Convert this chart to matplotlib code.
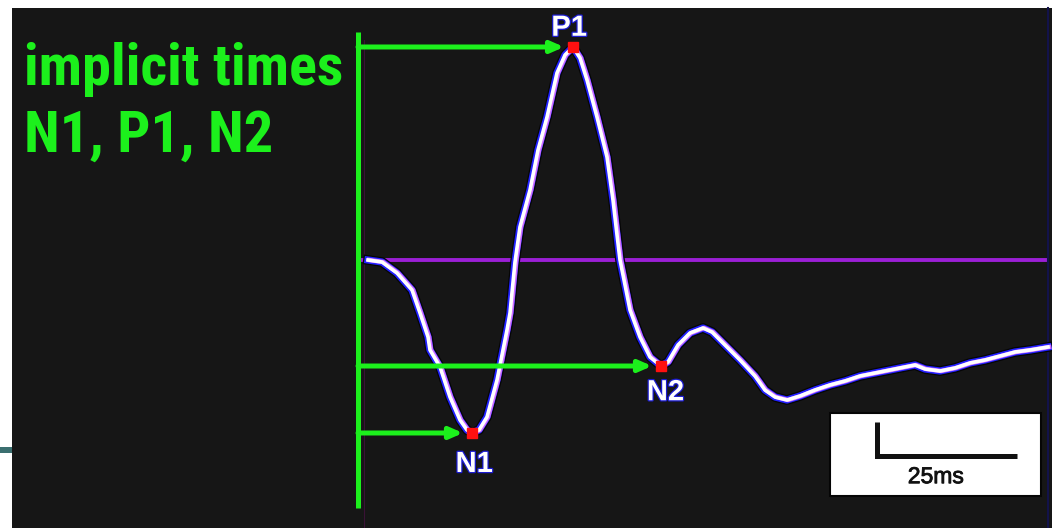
import matplotlib
matplotlib.use("Agg")
import matplotlib.pyplot as plt
import matplotlib.patheffects as pe
from matplotlib import font_manager
import numpy as np

# ---------------- data ----------------
time_ms = [1.07, 3.57, 6.25, 8.93, 10.36, 11.79, 12.14, 13.93, 15.71, 17.5, 18.75, 19.64,
           20.89, 22.32, 24.11, 25.18, 25.89, 26.43, 27.32, 28.21, 30.0, 31.43, 33.04,
           34.82, 36.25, 37.68, 38.93, 40.18, 41.96, 43.75, 44.82, 45.54, 46.07, 46.79,
           47.86, 49.64, 51.43, 53.39, 54.64, 56.43, 58.57, 60.89, 62.5, 64.82, 67.5,
           70.18, 71.96, 73.75, 75.89, 78.21, 80.89, 83.57, 86.25, 88.93, 92.5, 96.07,
           98.75, 100.54, 103.21, 105.89, 108.57, 111.25, 113.93, 116.61, 119.29, 122.5]
amp_uv = [0.0, -0.59, -3.82, -8.82, -15.59, -22.65, -26.47, -31.47, -40.29, -47.06, -50.0, -50.88,
          -50.0, -46.18, -35.29, -26.47, -20.59, -15.59, -0.59, 9.71, 20.59, 32.35, 42.06,
          55.0, 60.29, 62.65, 59.41, 52.94, 42.06, 30.29, 17.65, 7.35, 0.0, -5.88,
          -14.71, -22.65, -28.53, -31.18, -30.0, -25.0, -21.47, -20.0, -21.18, -25.0, -29.41,
          -34.12, -38.24, -40.29, -41.18, -40.0, -38.24, -36.76, -35.59, -34.12, -32.94, -31.76,
          -30.88, -32.06, -32.65, -31.76, -30.29, -29.41, -28.24, -27.06, -26.47, -25.59]
peak_names = ["N1", "P1", "N2"]
title_lines = ["implicit times", "N1, P1, N2"]
scale_time_ms = 25
scale_amp_uv = 10
scale_label = "25ms"

# ---------------- style ----------------
W, H, DPI = 1052, 528, 100
PX_PER_MS, PX_PER_UV = 5.6, 3.4
X0_PX, Y0_PX = 362, 260          # pixel position of t=0, a=0
GREEN = "#1cf01c"
PANEL = "#161616"
PURPLE = "#9b1fd6"

fontnames = {f.name for f in font_manager.fontManager.ttflist}
big_font = "Liberation Sans"
for cand in ["Roboto Condensed", "PT Sans Narrow", "Archivo Narrow"]:
    if cand in fontnames:
        big_font = cand
        break

fig = plt.figure(figsize=(W / DPI, H / DPI), dpi=DPI)
fig.patch.set_facecolor("white")
# black slide panel
fig.patches.append(plt.Rectangle((12 / W, 0), 1 - 12 / W, 1 - 8 / H, transform=fig.transFigure,
                                 facecolor=PANEL, edgecolor="none", zorder=-2))
fig.patches.append(plt.Rectangle((0, 1 - 453 / H), 12 / W, 6 / H, transform=fig.transFigure,
                                 facecolor="#3b6f70", edgecolor="none", zorder=-2))

ax = fig.add_axes([0, 0, 1, 1])
ax.set_facecolor("none")
ax.set_xlim(-X0_PX / PX_PER_MS, (W - X0_PX) / PX_PER_MS)
ax.set_ylim((Y0_PX - H) / PX_PER_UV, Y0_PX / PX_PER_UV)
ax.axis("off")

t = np.array(time_ms)
a = np.array(amp_uv)

# right edge dark line
ax.plot([(1048 - X0_PX) / PX_PER_MS] * 2, [ax.get_ylim()[0], (Y0_PX - 8) / PX_PER_UV],
        color="#12124a", lw=1.5, zorder=1)

# baseline
ax.plot([0, (1045 - X0_PX) / PX_PER_MS], [0, 0], color=PURPLE, lw=2.8, zorder=2)

# vertical axis line
vx = (358 - X0_PX) / PX_PER_MS
ax.plot([vx + 1.0, vx + 1.0], [(Y0_PX - 527) / PX_PER_UV, (Y0_PX - 40) / PX_PER_UV],
        color="#3a1236", lw=0.8, zorder=2)
ax.plot([vx, vx], [(Y0_PX - 508) / PX_PER_UV, (Y0_PX - 32) / PX_PER_UV],
        color=GREEN, lw=3.6, zorder=3, solid_capstyle="butt")

# waveform
ax.plot(t, a, color="#050505", lw=7.0, zorder=4, solid_joinstyle="round")
ax.plot(t, a, color="#2222ff", lw=5.2, zorder=4, solid_joinstyle="round")
ax.plot(t + 0.2, a, color="#d070ff", lw=3.2, zorder=4)
ax.plot(t, a, color="white", lw=2.6, zorder=5)

# peaks
i_n1 = int(np.argmin(a[:20]))
i_p1 = int(np.argmax(a))
i_n2 = 30 + int(np.argmin(a[30:40]))
peaks = [i_n1, i_p1, i_n2]
label_offsets = [(0.4, -5.0), (-0.7, 3.3), (0.8, -3.6)]
for name, idx, (dx, dy) in zip(peak_names, peaks, label_offsets):
    ax.annotate("", xy=(t[idx] - 1.6, a[idx]), xytext=(vx, a[idx]),
                arrowprops=dict(arrowstyle="-|>,head_length=0.75,head_width=0.33",
                                color=GREEN, lw=3.6, shrinkA=0, shrinkB=0), zorder=6)
    ax.plot(t[idx], a[idx], marker="s", ms=6.5, color="#ff1010", mec="#ff1010", zorder=7)
    ax.text(t[idx] + dx, a[idx] + dy, name, color="white", fontsize=21, fontweight="bold",
            family="Liberation Sans", ha="center", va="baseline" if dy > 0 else "top",
            zorder=8, path_effects=[pe.withStroke(linewidth=1.8, foreground="#1b1bd0")])

# scale bar box
bx0, bx1 = (830 - X0_PX) / PX_PER_MS, (1041 - X0_PX) / PX_PER_MS
by0, by1 = (Y0_PX - 496) / PX_PER_UV, (Y0_PX - 413) / PX_PER_UV
ax.add_patch(plt.Rectangle((bx0, by0), bx1 - bx0, by1 - by0, facecolor="white",
                           edgecolor="#050505", lw=1.5, zorder=6))
sx, sy = (877 - X0_PX) / PX_PER_MS, (Y0_PX - 456) / PX_PER_UV
ax.plot([sx, sx, sx + scale_time_ms], [sy + scale_amp_uv, sy, sy], color="#111111",
        lw=3.6, zorder=7, solid_joinstyle="miter", solid_capstyle="butt")
ax.text(sx + scale_time_ms * 0.42, sy - 2.7, scale_label, color="#111111", fontsize=16.5,
        family="Liberation Sans", ha="center", va="top", zorder=8,
        path_effects=[pe.withStroke(linewidth=0.6, foreground="#111111")])

# title
for line, base_px in zip(title_lines, [85, 152]):
    fig.text(24 / W, 1 - base_px / H, line, color=GREEN, fontsize=42, fontweight="bold",
             family=big_font, ha="left", va="baseline")

fig.savefig("out.png", dpi=DPI, facecolor=fig.get_facecolor())
